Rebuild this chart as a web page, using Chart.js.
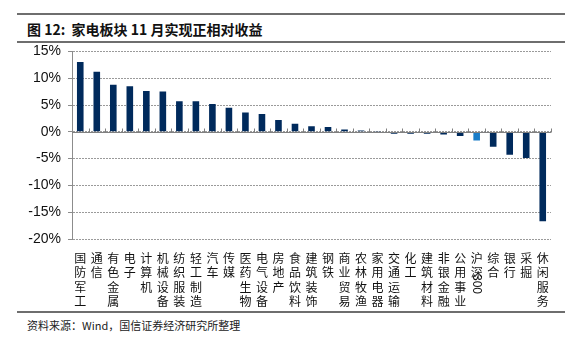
<!DOCTYPE html>
<html>
<head>
<meta charset="utf-8">
<script src="https://cdn.jsdelivr.net/npm/chart.js@4"></script>
<style>
  body { margin: 0; background: #fff; width: 566px; height: 338px; position: relative; overflow: hidden; }
  .line { position: absolute; left: 17px; right: 1px; height: 2px; background: #6e6e6e; }
  #title { position: absolute; left: 27px; top: 19px; font: bold 14px "Noto Sans CJK SC", sans-serif; color: #111; white-space: nowrap; }
  #source { position: absolute; left: 27px; top: 317px; font: 11px "Noto Sans CJK SC", sans-serif; color: #222; white-space: nowrap; }
  #wrap { position: absolute; left: 0; top: 36px; width: 566px; height: 274px; }
</style>
</head>
<body>
<div class="line" style="top:13px"></div>
<div id="title">图 12:&nbsp; 家电板块 11 月实现正相对收益</div>
<div class="line" style="top:41px"></div>
<div id="wrap"><canvas id="chart" width="566" height="274"></canvas></div>
<div class="line" style="top:311px"></div>
<div id="source">资料来源：Wind，国信证券经济研究所整理</div>

<script>
let sectors = ["国防军工", "通信", "有色金属", "电子", "计算机", "机械设备", "纺织服装", "轻工制造",
  "汽车", "传媒", "医药生物", "电气设备", "房地产", "食品饮料", "建筑装饰", "钢铁", "商业贸易",
  "农林牧渔", "家用电器", "交通运输", "化工", "建筑材料", "非银金融", "公用事业", "沪深300",
  "综合", "银行", "采掘", "休闲服务"];
let returns = [13.0, 11.2, 8.8, 8.5, 7.6, 7.5, 5.7, 5.7, 5.2, 4.5, 3.6, 3.3, 2.2, 1.5, 1.05, 0.9,
  0.45, 0.25, 0.05, -0.35, -0.35, -0.35, -0.5, -0.8, -1.6, -2.8, -4.3, -4.9, -16.7];
let yMin = -20, yMax = 15, yStep = 5;

let navy = "#002a5c";
let lightBlue = "#1a7dc8";
let barColors = sectors.map(s => s === "沪深300" ? lightBlue : navy);
let rowH = 14.5;

// 把标签拆成竖排的单字, 沪深300 的数字另外旋转绘制
function verticalLabel(name) {
  let m = name.match(/^(\D+)(\d+)$/);
  if (m) return m[1].split("");
  return name.split("");
}

let axisExtras = {
  id: "axisExtras",
  // 零轴(实线)和上面的小刻度
  afterDatasetsDraw(chart) {
    let ctx = chart.ctx;
    let x = chart.scales.x;
    let y = chart.scales.y;
    let y0 = Math.round(y.getPixelForValue(0)) + 0.5;
    ctx.save();
    ctx.strokeStyle = "#808080";
    ctx.lineWidth = 1;
    ctx.beginPath();
    ctx.moveTo(x.left, y0);
    ctx.lineTo(x.right, y0);
    let w = (x.right - x.left) / sectors.length;
    for (let i = 1; i <= sectors.length; i++) {
      let px = Math.round(x.left + i * w) + 0.5;
      ctx.moveTo(px, y0);
      ctx.lineTo(px, y0 - 4);
    }
    ctx.stroke();
    ctx.restore();
  },
  // 旋转的 "300"
  afterDraw(chart) {
    let ctx = chart.ctx;
    let x = chart.scales.x;
    sectors.forEach((s, i) => {
      let m = s.match(/^(\D+)(\d+)$/);
      if (!m) return;
      let px = x.getPixelForValue(i);
      let top = x.top + 4 + m[1].length * rowH + 2;
      ctx.save();
      ctx.translate(px, top);
      ctx.rotate(Math.PI / 2);
      ctx.font = "12px 'Liberation Sans', Arial, sans-serif";
      ctx.fillStyle = "#111";
      ctx.textBaseline = "middle";
      ctx.fillText(m[2], 0, 0);
      ctx.restore();
    });
  }
};

new Chart(document.getElementById("chart"), {
  type: "bar",
  data: {
    labels: sectors,
    datasets: [{
      data: returns,
      backgroundColor: barColors,
      categoryPercentage: 0.8,
      barPercentage: 0.5
    }]
  },
  options: {
    responsive: false,
    animation: false,
    layout: { padding: { top: 6, right: 15, left: 0, bottom: 0 } },
    plugins: { legend: { display: false }, tooltip: { enabled: false } },
    scales: {
      x: {
        grid: { display: false },
        border: { display: false },
        ticks: {
          autoSkip: false,
          maxRotation: 0,
          minRotation: 0,
          padding: 4,
          color: "#111",
          font: { family: "'Noto Sans CJK SC', sans-serif", size: 12, lineHeight: rowH + "px" },
          callback: function (v, i) { return verticalLabel(sectors[i]); }
        },
        afterFit: function (scale) { scale.height = 71; }
      },
      y: {
        min: yMin,
        max: yMax,
        grid: {
          color: "#9a9a9a",
          lineWidth: 1,
          tickLength: 4,
          tickColor: "#8c8c8c"
        },
        border: {
          color: "#8c8c8c",
          width: 1,
          dash: [2, 1]
        },
        ticks: {
          stepSize: yStep,
          padding: 7,
          color: "#111",
          font: { family: "'Liberation Sans', Arial, sans-serif", size: 14 },
          callback: v => v + "%"
        },
        afterFit: function (scale) { scale.width = 72; }
      }
    }
  },
  plugins: [axisExtras]
});
</script>
</body>
</html>
